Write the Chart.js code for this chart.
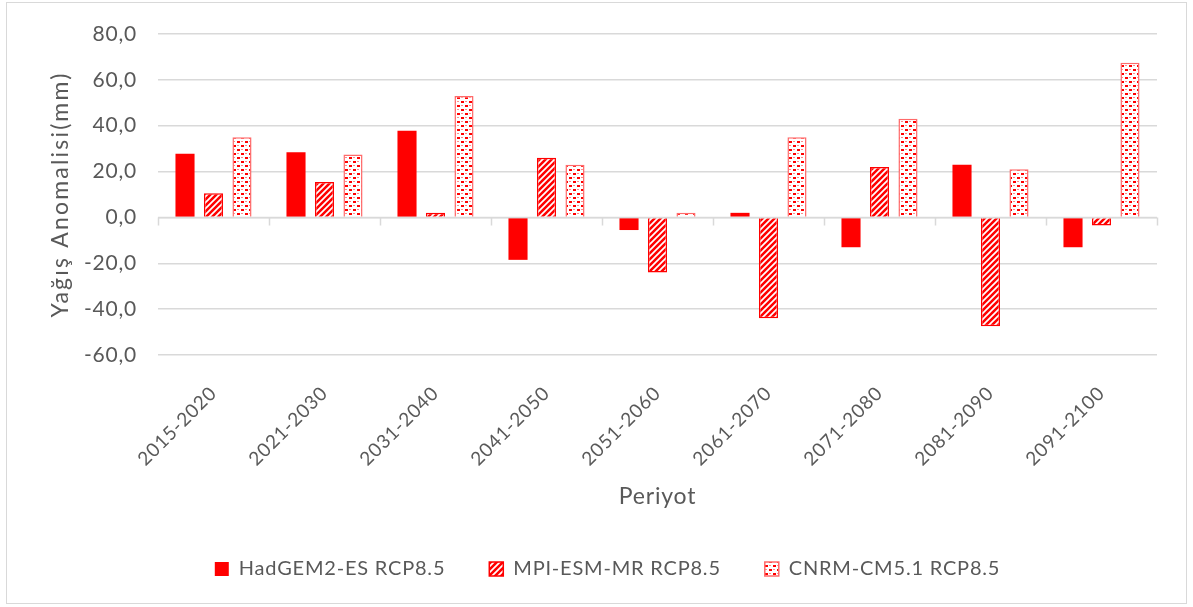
<!DOCTYPE html>
<html>
<head>
<meta charset="utf-8">
<script src="https://cdn.jsdelivr.net/npm/chart.js@4.4.1/dist/chart.umd.min.js"></script>
<style>
  html, body { margin: 0; padding: 0; background: #fff; }
  #wrap { position: relative; width: 1193px; height: 607px; }
  #frame { position: absolute; left: 6px; top: 2px; width: 1181px; height: 602px; border: 1px solid #d9d9d9; box-sizing: border-box; pointer-events: none; }
  canvas { position: absolute; left: 0; top: 0; }
</style>
</head>
<body>
<div id="wrap">
  <canvas id="c" width="1193" height="607"></canvas>
  <div id="frame"></div>
</div>
<script>
const categories = ["2015-2020","2021-2030","2031-2040","2041-2050","2051-2060","2061-2070","2071-2080","2081-2090","2091-2100"];
const hadgem = [27.8, 28.4, 37.8, -18.5, -5.5, 2.0, -13.0, 23.0, -13.0];
const mpi = [10.5, 15.5, 2.0, 26.0, -24.0, -44.0, 22.0, -47.5, -3.5];
const cnrm = [35.0, 27.5, 53.0, 23.0, 2.0, 35.0, 43.0, 21.0, 67.5];
const seriesNames = ["HadGEM2-ES RCP8.5", "MPI-ESM-MR RCP8.5", "CNRM-CM5.1 RCP8.5"];
const yTitle = "Yağış Anomalisi(mm)";
const xTitle = "Periyot";

const FONT = "Lato, 'Open Sans', sans-serif";
const GREY = "#595959";

function stripePattern() {
  const p = document.createElement('canvas');
  p.width = 6; p.height = 6;
  const g = p.getContext('2d');
  g.fillStyle = '#ff0000';
  g.fillRect(0, 0, 6, 6);
  g.strokeStyle = '#ffffff';
  g.lineWidth = 1.7;
  g.beginPath();
  g.moveTo(-1, 7); g.lineTo(7, -1);
  g.moveTo(-4, 4); g.lineTo(4, -4);
  g.moveTo(2, 10); g.lineTo(10, 2);
  g.stroke();
  return g.createPattern(p, 'repeat');
}
function dotPattern() {
  const p = document.createElement('canvas');
  p.width = 8; p.height = 8;
  const g = p.getContext('2d');
  g.fillStyle = '#ffffff';
  g.fillRect(0, 0, 8, 8);
  g.fillStyle = '#ff0000';
  g.fillRect(1, 1, 3, 2);
  g.fillRect(5, 5, 3, 2);
  g.fillStyle = '#ff8c8c';
  g.fillRect(5, 1, 2, 1);
  g.fillRect(1, 5, 2, 1);
  return g.createPattern(p, 'repeat');
}

const styling = {
  id: 'styling',
  beforeUpdate(chart) { chart.ctx.letterSpacing = '0.8px'; },
  beforeDraw(chart) { chart.ctx.letterSpacing = '0.8px'; },
  afterDatasetsDraw(chart) {
    const x = chart.scales.x, y = chart.scales.y, ctx = chart.ctx;
    const y0 = y.getPixelForValue(0);
    ctx.save();
    ctx.strokeStyle = '#d9d9d9';
    ctx.lineWidth = 1.5;
    ctx.beginPath();
    ctx.moveTo(x.left, y0); ctx.lineTo(x.right, y0);
    for (let i = 0; i <= categories.length; i++) {
      const px = Math.round(x.getPixelForValue(i - 0.5)) + 0.5;
      ctx.moveTo(px, y0); ctx.lineTo(px, y0 + 8);
    }
    ctx.stroke();
    ctx.restore();
  },
  afterDraw(chart) {
    const ca = chart.chartArea, ctx = chart.ctx;
    ctx.save();
    ctx.letterSpacing = '2.2px';
    ctx.font = "23px " + FONT;
    ctx.fillStyle = GREY;
    ctx.textAlign = 'center';
    ctx.textBaseline = 'middle';
    ctx.translate(61, (ca.top + ca.bottom) / 2);
    ctx.rotate(-Math.PI / 2);
    ctx.fillText(yTitle, 0, 0);
    ctx.restore();
  }
};

new Chart(document.getElementById('c'), {
  type: 'bar',
  data: {
    labels: categories,
    datasets: [
      { label: seriesNames[0], data: hadgem, backgroundColor: '#ff0000', borderColor: '#ff0000', borderWidth: 0 },
      { label: seriesNames[1], data: mpi, backgroundColor: stripePattern(), borderColor: '#ff0000', borderWidth: 1.5 },
      { label: seriesNames[2], data: cnrm, backgroundColor: dotPattern(), borderColor: '#ff6a6a', borderWidth: 1.5 }
    ]
  },
  options: {
    responsive: false,
    animation: false,
    devicePixelRatio: 1,
    layout: { padding: { left: 58, right: 36, top: 34, bottom: 18 } },
    datasets: { bar: { categoryPercentage: 0.77, barPercentage: 0.67 } },
    plugins: {
      legend: {
        position: 'bottom',
        labels: { font: { family: FONT, size: 20 }, color: GREY, boxWidth: 14, boxHeight: 14, padding: 44 }
      },
      tooltip: { enabled: false }
    },
    scales: {
      x: {
        grid: { display: false },
        border: { display: false },
        ticks: { font: { family: FONT, size: 19 }, color: GREY, minRotation: 45, maxRotation: 45, padding: 19 },
        title: { display: true, text: xTitle, font: { family: FONT, size: 23 }, color: GREY, padding: { top: 0, bottom: 5 } },
        afterFit(s) { s.height = 160; }
      },
      y: {
        min: -60, max: 80,
        grid: { color: '#d9d9d9', lineWidth: 1.5, drawTicks: false },
        border: { display: false },
        ticks: { stepSize: 20, font: { family: FONT, size: 21 }, color: GREY, padding: 21,
          callback: v => v.toFixed(1).replace('.', ',') },
        afterFit(s) { s.width = 100; }
      }
    }
  },
  plugins: [styling]
});
</script>
</body>
</html>
